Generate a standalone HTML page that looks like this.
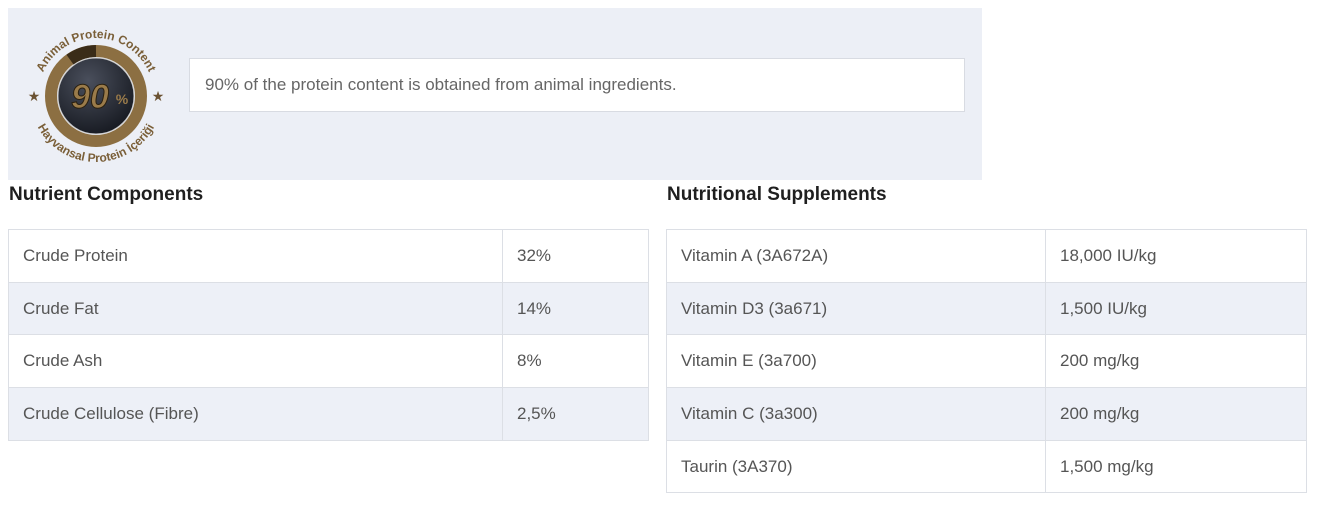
<!DOCTYPE html>
<html><head><meta charset="utf-8"><style>
body{margin:0;width:1317px;height:511px;background:#fff;font-family:"Liberation Sans",sans-serif;position:relative;overflow:hidden}
.panel{position:absolute;left:8px;top:8px;width:974px;height:172px;background:#eceff6}
.box{position:absolute;left:189px;top:58px;width:774px;height:52px;background:#fff;border:1px solid #d8dbe2;box-sizing:content-box}
.box span{position:absolute;left:15px;top:16px;font-size:17px;color:#666}
h2{position:absolute;margin:0;font-size:19px;font-weight:bold;color:#1f1f1f;top:184px}
table{position:absolute;border-collapse:collapse;top:229px;font-size:17px;color:#555}
td{border:1px solid #dcdfe5;height:52.7px;padding:0 0 0 14px;box-sizing:border-box}
tr:nth-child(even) td{background:#edf0f7}
</style></head><body>
<div class="panel">
<svg width="180" height="172" style="position:absolute;left:0;top:0" viewBox="8 8 180 172">
<defs>
<path id="top" d="M38,96 A58,58 0 0 1 154,96"/>
<path id="bot" d="M30,96 A66,66 0 0 0 162,96"/>
<radialGradient id="g" cx="0.4" cy="0.3" r="0.8"><stop offset="0" stop-color="#4a4f5c"/><stop offset="1" stop-color="#12151c"/></radialGradient>
</defs>
<circle cx="96" cy="96" r="45" fill="none" stroke="#8c6f42" stroke-width="12"/>
<path d="M96,51 A45,45 0 0 0 70,59.6" fill="none" stroke="#3a2c18" stroke-width="12"/>
<circle cx="96" cy="96" r="38" fill="url(#g)" stroke="#c9c9c9" stroke-width="1"/>
<text x="90" y="108" text-anchor="middle" font-size="34" font-weight="bold" font-style="italic" fill="#9a7b4a" stroke="#2a2010" stroke-width="1">90</text>
<text x="122" y="104" text-anchor="middle" font-size="14" font-weight="bold" fill="#9a7b4a">%</text>
<text font-size="12" font-weight="bold" fill="#7a5f38"><textPath href="#top" startOffset="50%" text-anchor="middle">Animal Protein Content</textPath></text>
<text font-size="12" font-weight="bold" fill="#7a5f38"><textPath href="#bot" startOffset="50%" text-anchor="middle">Hayvansal Protein İçeriği</textPath></text>
<text x="34" y="101" font-size="14" fill="#6b5232" text-anchor="middle">★</text>
<text x="158" y="101" font-size="14" fill="#6b5232" text-anchor="middle">★</text>
</svg>
</div>
<div class="box"><span>90% of the protein content is obtained from animal ingredients.</span></div>
<h2 style="left:9px">Nutrient Components</h2>
<h2 style="left:667px">Nutritional Supplements</h2>
<table style="left:8px;width:641px">
<tr><td style="width:494px">Crude Protein</td><td>32%</td></tr>
<tr><td>Crude Fat</td><td>14%</td></tr>
<tr><td>Crude Ash</td><td>8%</td></tr>
<tr><td>Crude Cellulose (Fibre)</td><td>2,5%</td></tr>
</table>
<table style="left:666px;width:641px">
<tr><td style="width:379px">Vitamin A (3A672A)</td><td>18,000 IU/kg</td></tr>
<tr><td>Vitamin D3 (3a671)</td><td>1,500 IU/kg</td></tr>
<tr><td>Vitamin E (3a700)</td><td>200 mg/kg</td></tr>
<tr><td>Vitamin C (3a300)</td><td>200 mg/kg</td></tr>
<tr><td>Taurin (3A370)</td><td>1,500 mg/kg</td></tr>
</table>
</body></html>
